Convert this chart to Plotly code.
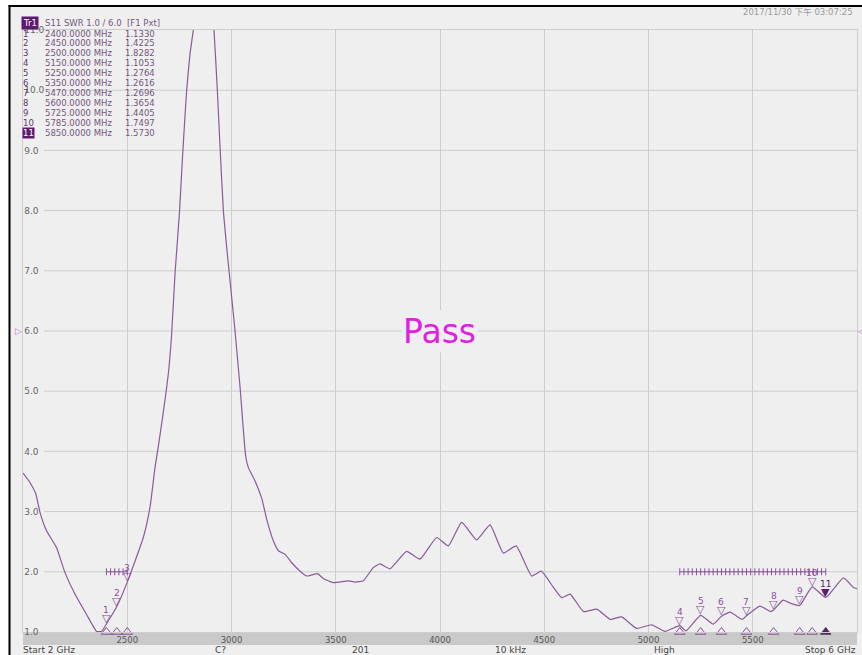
import plotly.graph_objects as go

# ---- S11 SWR sweep, 2 GHz to 6 GHz --------------------------------------
FREQ_MHZ = [
    2000, 2034, 2061, 2082, 2113, 2161, 2201, 2249, 2305, 2353, 2377,
    2400, 2450, 2500, 2577, 2609, 2633, 2652, 2697, 2713, 2729, 2750,
    2766, 2785, 2801, 2817, 2850, 2870, 2895, 2916, 2932, 2945, 2961,
    2980, 2996, 3017, 3041, 3068, 3081, 3113, 3145, 3169, 3201, 3225,
    3257, 3289, 3329, 3361, 3412, 3440, 3488, 3560, 3592, 3632, 3680,
    3712, 3760, 3840, 3904, 3984, 4040, 4104, 4176, 4240, 4304, 4365,
    4440, 4486, 4544, 4584, 4624, 4688, 4752, 4816, 4871, 4943, 5015,
    5079, 5135, 5150, 5180, 5250, 5311, 5350, 5391, 5450, 5470, 5535,
    5585, 5600, 5645, 5680, 5725, 5785, 5850, 5935, 5983, 6000,
]
SWR = [
    3.64, 3.48, 3.30, 2.98, 2.68, 2.40, 1.99, 1.63, 1.29, 1.01, 1.01,
    1.1330, 1.4225, 1.8282, 2.57, 3.07, 3.73, 4.15, 5.29, 5.95, 6.95, 7.95,
    8.95, 10.0, 10.6, 11.0, 11.9, 12.1, 11.8, 11.0, 10.0, 9.06, 8.0,
    7.28, 6.73, 6.0, 5.07, 3.92, 3.73, 3.51, 3.22, 2.87, 2.51, 2.35,
    2.29, 2.15, 2.01, 1.93, 1.97, 1.89, 1.82, 1.85, 1.83, 1.85, 2.07,
    2.13, 2.05, 2.34, 2.21, 2.57, 2.43, 2.82, 2.53, 2.78, 2.31, 2.43,
    1.93, 2.01, 1.74, 1.57, 1.63, 1.34, 1.38, 1.21, 1.25, 1.06, 1.12,
    1.01, 1.09, 1.1053, 1.02, 1.2764, 1.13, 1.2616, 1.33, 1.21, 1.2696, 1.43,
    1.34, 1.3654, 1.53, 1.48, 1.4405, 1.7497, 1.5730, 1.90, 1.74, 1.72,
]

# ---- markers ----------------------------------------------------------
MARKER_FREQ = [2400, 2450, 2500, 5150, 5250, 5350, 5470, 5600, 5725, 5785, 5850]
MARKER_SWR = [1.1330, 1.4225, 1.8282, 1.1053, 1.2764, 1.2616, 1.2696,
              1.3654, 1.4405, 1.7497, 1.5730]
ACTIVE_MARKER = 11

# ---- limit line -------------------------------------------------------
LIMIT_SWR = 2.0
LIMIT_SEGMENTS = [(2400, 2500), (5150, 5850)]
LIMIT_TICK_STEP = 20

# ---- axes ---------------------------------------------------------------
X_RANGE = [2000, 6000]
Y_RANGE = [1.0, 11.0]
X_TICKS = [2500, 3000, 3500, 4000, 4500, 5000, 5500]
Y_TICKS = [1.0, 2.0, 3.0, 4.0, 5.0, 6.0, 7.0, 8.0, 9.0, 10.0, 11.0]
REF_LEVEL = 6.0

HEADER_TAG = "Tr1"
HEADER_TEXT = "S11 SWR 1.0 / 6.0  [F1 Pxt]"
TIMESTAMP = "2017/11/30 下午 03:07:25"
VERDICT = "Pass"
FOOTER = [("Start 2 GHz", 21, "left"), ("C?", 213, "left"), ("201", 350, "left"),
          ("10 kHz", 493, "left"), ("High", 652, "left"), ("Stop 6 GHz", 858, "right")]

# ---- styling ------------------------------------------------------------
W, H = 862, 655
ML, MR, MT, MB = 23, 5, 30, 23
PW, PH = W - ML - MR, H - MT - MB
BG = "#efefef"
GRID = "#cdcdcd"
TRACE = "#8a5a9a"
MARK = "#8b4f9b"
DARK = "#5e1a70"
TEXT = "#75567f"
SANS = "DejaVu Sans, Noto Sans CJK SC, sans-serif"


def px_x(px):
    return (px - ML) / PW


def px_y(py):
    return (H - MB - py) / PH


fig = go.Figure()

# limit lines with comb ticks
for a, b in LIMIT_SEGMENTS:
    fig.add_trace(go.Scatter(x=[a, b], y=[LIMIT_SWR, LIMIT_SWR], mode="lines",
                             line=dict(color=MARK, width=1), hoverinfo="skip",
                             showlegend=False))
    ticks = list(range(a, b + 1, LIMIT_TICK_STEP))
    fig.add_trace(go.Scatter(x=ticks, y=[LIMIT_SWR] * len(ticks), mode="markers",
                             marker=dict(symbol="line-ns-open", size=5, color=MARK,
                                         line=dict(color=MARK, width=1)),
                             hoverinfo="skip", showlegend=False))

# measured trace
fig.add_trace(go.Scatter(x=FREQ_MHZ, y=SWR, mode="lines",
                         line=dict(color=TRACE, width=1.2, shape="spline", smoothing=0.45),
                         showlegend=False))

# marker position indicators along the bottom edge
n = len(MARKER_FREQ)
fig.add_trace(go.Scatter(
    x=MARKER_FREQ, y=[Y_RANGE[0]] * n, mode="markers", cliponaxis=False,
    marker=dict(symbol=["triangle-up" if i + 1 == ACTIVE_MARKER else "triangle-up-open"
                        for i in range(n)],
                size=9, color=[DARK if i + 1 == ACTIVE_MARKER else MARK for i in range(n)],
                line=dict(width=1)),
    hoverinfo="skip", showlegend=False))

annotations = []

# markers on the trace
for i, (f, v) in enumerate(zip(MARKER_FREQ, MARKER_SWR), start=1):
    active = i == ACTIVE_MARKER
    annotations.append(dict(x=f, y=v, xref="x", yref="y", text="▼" if active else "▽",
                            showarrow=False, yanchor="bottom", yshift=-3,
                            font=dict(family=SANS, size=11, color=DARK if active else MARK)))
    annotations.append(dict(x=f, y=v, xref="x", yref="y", text=str(i),
                            showarrow=False, yanchor="bottom", yshift=7,
                            font=dict(family=SANS, size=9, color=DARK if active else MARK)))

# marker table
for i, (f, v) in enumerate(zip(MARKER_FREQ, MARKER_SWR), start=1):
    y = px_y(33.5 + 9.95 * (i - 1))
    active = i == ACTIVE_MARKER
    annotations.append(dict(x=px_x(22), y=y, xref="paper", yref="paper", text=str(i),
                            showarrow=False, xanchor="left", yanchor="middle",
                            bgcolor=DARK if active else None, borderpad=0,
                            font=dict(family=SANS, size=8.5,
                                      color="white" if active else "#5a3a6a")))
    annotations.append(dict(x=px_x(43), y=y, xref="paper", yref="paper",
                            text=f"{f:.4f} MHz", showarrow=False, xanchor="left",
                            yanchor="middle", font=dict(family=SANS, size=8.5, color=TEXT)))
    annotations.append(dict(x=px_x(123), y=y, xref="paper", yref="paper",
                            text=f"{v:.4f}", showarrow=False, xanchor="left",
                            yanchor="middle", font=dict(family=SANS, size=8.5, color=TEXT)))

# header line
annotations.append(dict(x=px_x(21), y=px_y(23), xref="paper", yref="paper", text=HEADER_TAG,
                        showarrow=False, xanchor="left", yanchor="middle", bgcolor=DARK,
                        borderpad=1, font=dict(family=SANS, size=8.5, color="white")))
annotations.append(dict(x=px_x(43), y=px_y(23), xref="paper", yref="paper", text=HEADER_TEXT,
                        showarrow=False, xanchor="left", yanchor="middle",
                        font=dict(family=SANS, size=8.5, color=TEXT)))
annotations.append(dict(x=px_x(741), y=px_y(12), xref="paper", yref="paper", text=TIMESTAMP,
                        showarrow=False, xanchor="left", yanchor="middle",
                        font=dict(family=SANS, size=8.5, color="#9a9a9a")))

# reference level pointers
annotations.append(dict(x=0, y=REF_LEVEL, xref="paper", yref="y", text="▷", showarrow=False,
                        xanchor="right", yanchor="middle", xshift=1,
                        font=dict(family=SANS, size=9, color="#b07ac0")))
annotations.append(dict(x=1, y=REF_LEVEL, xref="paper", yref="y", text="◁", showarrow=False,
                        xanchor="left", yanchor="middle", xshift=-1,
                        font=dict(family=SANS, size=9, color="#b07ac0")))

# verdict
annotations.append(dict(x=px_x(439), y=px_y(331), xref="paper", yref="paper", text=VERDICT,
                        showarrow=False, xanchor="center", yanchor="middle", bgcolor=BG,
                        font=dict(family=SANS, size=33, color="#e020e0")))

# footer
for txt, xp, anchor in FOOTER:
    annotations.append(dict(x=px_x(xp), y=px_y(650.5), xref="paper", yref="paper", text=txt,
                            showarrow=False, xanchor=anchor, yanchor="middle",
                            font=dict(family=SANS, size=9, color="#454545")))

shapes = []
# horizontal grid, starting just right of each inside label
for v in Y_TICKS[1:-1]:
    lab_w = len(f"{v:.1f}") * 5.0 + 6
    shapes.append(dict(type="line", xref="paper", yref="y", x0=px_x(ML + lab_w), x1=1,
                       y0=v, y1=v, line=dict(color=GRID, width=1), layer="below"))
# frequency band strip below the grid
shapes.append(dict(type="rect", xref="paper", yref="paper", x0=0, x1=1,
                   y0=px_y(645), y1=0, fillcolor="#c9c9c9", line=dict(width=0), layer="below"))
# outer frame
shapes.append(dict(type="rect", xref="paper", yref="paper", x0=px_x(0), x1=px_x(8.5),
                   y0=px_y(H), y1=px_y(0), fillcolor="white", line=dict(width=0)))
shapes.append(dict(type="rect", xref="paper", yref="paper", x0=px_x(0), x1=px_x(W),
                   y0=px_y(5), y1=px_y(0), fillcolor="white", line=dict(width=0)))
shapes.append(dict(type="line", xref="paper", yref="paper", x0=px_x(9.5), x1=px_x(9.5),
                   y0=px_y(H), y1=px_y(5), line=dict(color="black", width=2)))
shapes.append(dict(type="line", xref="paper", yref="paper", x0=px_x(8.5), x1=px_x(W),
                   y0=px_y(6), y1=px_y(6), line=dict(color="black", width=2)))

fig.update_layout(
    width=W, height=H,
    margin=dict(l=ML, r=MR, t=MT, b=MB),
    paper_bgcolor=BG, plot_bgcolor=BG,
    showlegend=False,
    xaxis=dict(range=X_RANGE, tickvals=X_TICKS, ticktext=[str(t) for t in X_TICKS],
               showgrid=True, gridcolor=GRID, gridwidth=1, zeroline=False,
               showline=True, linecolor=GRID, mirror=True, ticks="",
               ticklabelstandoff=0,
               tickfont=dict(family=SANS, size=8.5, color="#555555"), fixedrange=True),
    yaxis=dict(range=Y_RANGE, tickvals=Y_TICKS, ticktext=[f"{v:.1f}" for v in Y_TICKS],
               ticklabelposition="inside", ticklabeloverflow="allow",
               showgrid=False, zeroline=False,
               showline=True, linecolor=GRID, mirror=True, ticks="",
               tickfont=dict(family=SANS, size=9, color="#666666"), fixedrange=True),
    shapes=shapes,
    annotations=annotations,
)

fig.write_html("out.html")
